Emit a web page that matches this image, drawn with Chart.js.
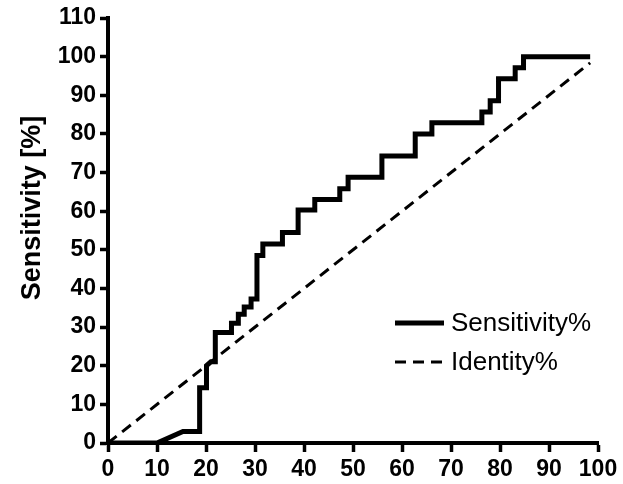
<!DOCTYPE html>
<html>
<head>
<meta charset="utf-8">
<script src="https://cdn.jsdelivr.net/npm/chart.js@4.4.0/dist/chart.umd.min.js"></script>
<style>
  html, body { margin: 0; padding: 0; background: #fff; }
  #wrap { width: 623px; height: 484px; }
</style>
</head>
<body>
<div id="wrap"><canvas id="rocChart" width="623" height="484"></canvas></div>
<script>
// 100 - specificity (%) and sensitivity (%)
const rocX = [0, 10, 15.3, 18.7, 18.7, 20.1, 20.1, 21, 21.9, 21.9, 25.2, 25.2, 26.6, 26.6, 27.8, 27.8,
  29.2, 29.2, 30.4, 30.4, 31.6, 31.6, 35.6, 35.6, 38.8, 38.8, 42.2, 42.2, 47.3, 47.3, 49, 49,
  55.9, 55.9, 62.7, 62.7, 66.1, 66.1, 76.3, 76.3, 78, 78, 79.7, 79.7, 83.1, 83.1, 84.8, 84.8, 98.4];
const rocY = [0, 0, 3, 3, 14.3, 14.3, 20, 21, 21, 28.6, 28.6, 31, 31, 33.3, 33.3, 35.2,
  35.2, 37.3, 37.3, 48.5, 48.5, 51.5, 51.5, 54.5, 54.5, 60.3, 60.3, 63, 63, 65.8, 65.8, 68.8,
  68.8, 74.3, 74.3, 80, 80, 82.9, 82.9, 85.7, 85.7, 88.6, 88.6, 94.3, 94.3, 97.1, 97.1, 100, 100];
const identityX = [0, 98.4];
const identityY = [0, 98.4];
const xTicks = [0, 10, 20, 30, 40, 50, 60, 70, 80, 90, 100];
const yTicks = [0, 10, 20, 30, 40, 50, 60, 70, 80, 90, 100, 110];

const toPoints = (xs, ys) => xs.map((x, i) => ({ x: x, y: ys[i] }));

// legend drawn inside the plot area, like the original
const insideLegend = {
  id: 'insideLegend',
  afterDatasetsDraw(chart) {
    const ctx = chart.ctx;
    const rows = [323, 362];
    ctx.save();
    chart.data.datasets.forEach((ds, i) => {
      const y = rows[i];
      ctx.beginPath();
      ctx.setLineDash(ds.borderDash || []);
      ctx.lineWidth = ds.borderWidth;
      ctx.strokeStyle = ds.borderColor;
      ctx.moveTo(395, y);
      ctx.lineTo(444, y);
      ctx.stroke();
      ctx.setLineDash([]);
      ctx.fillStyle = '#000';
      ctx.font = '26px "Liberation Sans", Arial, sans-serif';
      ctx.textBaseline = 'middle';
      ctx.textAlign = 'left';
      ctx.fillText(ds.label, 451, y + 1);
    });
    ctx.restore();
  }
};

const tickFont = { family: '"Liberation Sans", Arial, sans-serif', size: 23, weight: 'bold' };

new Chart(document.getElementById('rocChart'), {
  type: 'scatter',
  data: {
    datasets: [
      {
        label: 'Sensitivity%',
        data: toPoints(rocX, rocY),
        showLine: true,
        borderColor: '#000',
        borderWidth: 5,
        borderJoinStyle: 'miter',
        pointRadius: 0,
        tension: 0,
      },
      {
        label: 'Identity%',
        data: toPoints(identityX, identityY),
        showLine: true,
        borderColor: '#000',
        borderWidth: 3,
        borderDash: [11, 7],
        pointRadius: 0,
      },
    ],
  },
  options: {
    responsive: false,
    animation: false,
    layout: { padding: { top: 18, right: 25, left: 0, bottom: 0 } },
    plugins: { legend: { display: false }, tooltip: { enabled: false } },
    scales: {
      x: {
        type: 'linear',
        min: 0,
        max: 100,
        afterBuildTicks: (scale) => { scale.ticks = xTicks.map((v) => ({ value: v })); },
        afterFit: (scale) => { scale.height = 41; },
        border: { display: true, color: '#000', width: 4 },
        grid: { drawOnChartArea: false, drawTicks: true, tickLength: 9, tickWidth: 3.5, tickColor: '#000' },
        ticks: { color: '#000', font: tickFont, padding: 4, maxRotation: 0 },
      },
      y: {
        type: 'linear',
        min: 0,
        max: 110,
        afterBuildTicks: (scale) => { scale.ticks = yTicks.map((v) => ({ value: v })); },
        afterFit: (scale) => { scale.width = 108; },
        border: { display: true, color: '#000', width: 4 },
        grid: { drawOnChartArea: false, drawTicks: true, tickLength: 8, tickWidth: 3.5, tickColor: '#000' },
        ticks: { color: '#000', font: tickFont, padding: 4 },
        title: {
          display: true,
          text: '      Sensitivity [%]',
          color: '#000',
          font: { family: '"Liberation Sans", Arial, sans-serif', size: 27, weight: 'bold' },
          padding: { top: 16, bottom: 0 },
        },
      },
    },
  },
  plugins: [insideLegend],
});
</script>
</body>
</html>
